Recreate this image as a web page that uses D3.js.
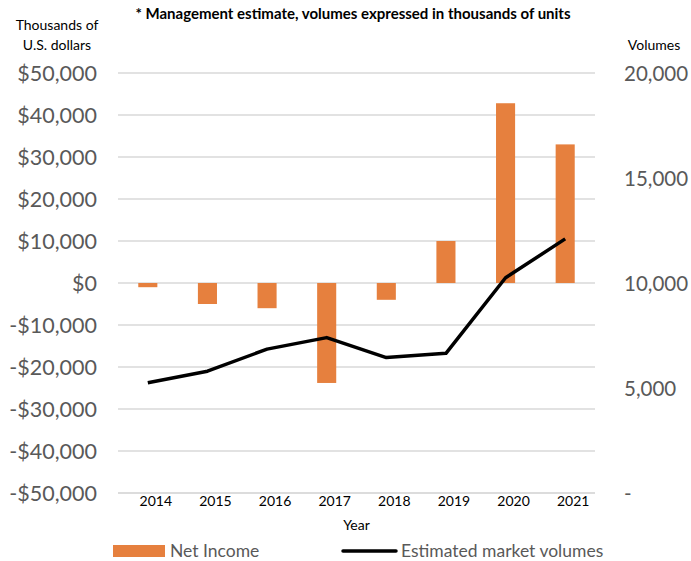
<!DOCTYPE html>
<html><head><meta charset="utf-8">
<script src="https://cdn.jsdelivr.net/npm/d3@7"></script>
<style>body{margin:0;background:#fff}svg{display:block;font-family:Lato,"Open Sans",sans-serif}</style>
</head><body><svg id="c" width="691" height="561"></svg>
<script>
const years = ["2014","2015","2016","2017","2018","2019","2020","2021"];
const netIncome = [-1000,-5000,-6000,-23800,-4000,10000,42800,33000];
const volumes = [5250,5800,6850,7400,6450,6650,10250,12100];
const leftTicks = [-50000,-40000,-30000,-20000,-10000,0,10000,20000,30000,40000,50000];
const rightTicks = [0,5000,10000,15000,20000];

const svg = d3.select("#c");
const L=118, R=595, T=73, B=493;
const x = d3.scaleBand().domain(years).range([L,R]).paddingInner(0.68).paddingOuter(0.34);
const yL = d3.scaleLinear().domain([-50000,50000]).range([B,T]);
const yR = d3.scaleLinear().domain([0,20000]).range([B,T]);

// gridlines
svg.append("g").selectAll("line").data(leftTicks.filter(d=>d!==-50000)).join("line")
  .attr("x1",L).attr("x2",R).attr("y1",d=>yL(d)).attr("y2",d=>yL(d))
  .attr("stroke","#d9d9d9").attr("stroke-width",1.3);
svg.append("line").attr("x1",L).attr("x2",R).attr("y1",B).attr("y2",B).attr("stroke","#d0d0d0").attr("stroke-width",1.3);

// left axis
const fmt = d => (d<0?"-":"")+"$"+d3.format(",")(Math.abs(d));
const la = svg.append("g").attr("transform",`translate(${L-21},0)`)
  .call(d3.axisLeft(yL).tickValues(leftTicks).tickFormat(fmt).tickSize(0).tickPadding(0));
la.select(".domain").remove();
la.selectAll("text").attr("fill","#595959").style("font-size","21.5px").style("font-family","Lato,sans-serif").attr("dy","0.35em");

// right axis
const ra = svg.append("g").attr("transform",`translate(${624},0)`)
  .call(d3.axisRight(yR).tickValues(rightTicks).tickFormat(d=>d===0?"-":d3.format(",")(d)).tickSize(0).tickPadding(0));
ra.select(".domain").remove();
ra.selectAll("text").attr("fill","#595959").style("font-size","20.5px").style("font-family","Lato,sans-serif").attr("dy","0.35em");

// bars
svg.append("g").selectAll("rect").data(years).join("rect")
  .attr("x",d=>x(d)).attr("width",x.bandwidth())
  .attr("y",(d,i)=>yL(Math.max(0,netIncome[i])))
  .attr("height",(d,i)=>Math.abs(yL(netIncome[i])-yL(0)))
  .attr("fill","#E6803E");

// line
const line = d3.line().x((d,i)=>x(years[i])+x.bandwidth()/2).y(d=>yR(d));
svg.append("path").datum(volumes).attr("d",line).attr("fill","none").attr("stroke","#000").attr("stroke-width",3.5).attr("stroke-linejoin","round");

// x axis labels
const xa = svg.append("g").attr("transform",`translate(8,${B})`)
  .call(d3.axisBottom(x).tickSize(0).tickPadding(3));
xa.select(".domain").remove();
xa.selectAll("text").attr("fill","#000").style("font-size","14px").style("font-family","Lato,sans-serif");

svg.append("text").attr("x",(L+R)/2).attr("y",530).attr("text-anchor","middle").style("font-size","14px").text("Year");

// titles
svg.append("text").attr("x",353).attr("y",19).attr("text-anchor","middle").style("font-size","15px").style("font-weight","bold").text("* Management estimate, volumes expressed in thousands of units");
svg.append("text").attr("x",57).attr("y",30).attr("text-anchor","middle").style("font-size","14px").text("Thousands of");
svg.append("text").attr("x",57).attr("y",50).attr("text-anchor","middle").style("font-size","14px").text("U.S. dollars");
svg.append("text").attr("x",654).attr("y",50).attr("text-anchor","middle").style("font-size","14px").text("Volumes");

// legend
svg.append("rect").attr("x",113).attr("y",545).attr("width",52).attr("height",12).attr("fill","#E6803E");
svg.append("text").attr("x",170).attr("y",557).attr("fill","#595959").style("font-size","17.5px").text("Net Income");
svg.append("line").attr("x1",343).attr("x2",396).attr("y1",551).attr("y2",551).attr("stroke","#000").attr("stroke-width",3.5).attr("stroke-linecap","round");
svg.append("text").attr("x",401).attr("y",557).attr("fill","#595959").style("font-size","17.5px").text("Estimated market volumes");
</script></body></html>
